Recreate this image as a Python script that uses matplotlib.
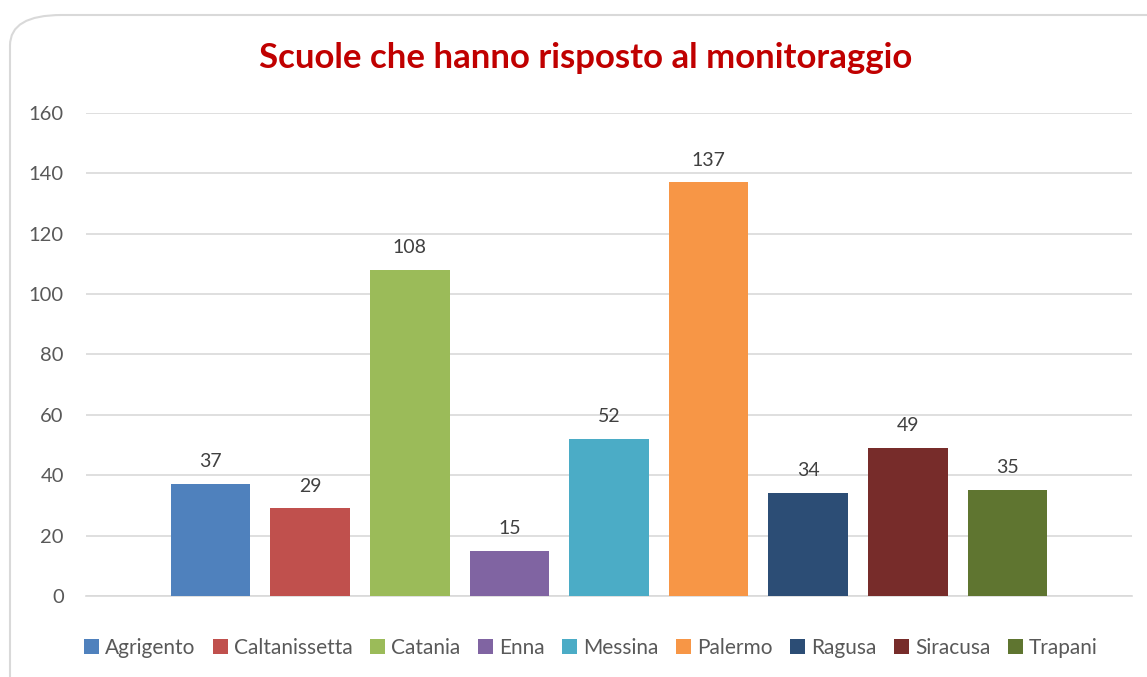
import matplotlib.pyplot as plt
from matplotlib.patches import FancyBboxPatch, Patch

provinces = ['Agrigento', 'Caltanissetta', 'Catania', 'Enna', 'Messina',
             'Palermo', 'Ragusa', 'Siracusa', 'Trapani']
schools = [37, 29, 108, 15, 52, 137, 34, 49, 35]
colors = ['#4F81BD', '#C0504D', '#9BBB59', '#8064A2', '#4BACC6',
          '#F79646', '#2C4D75', '#772C2A', '#5F7530']
yticks = [0, 20, 40, 60, 80, 100, 120, 140, 160]

plt.rcParams['font.family'] = ['Lato', 'DejaVu Sans']

fig = plt.figure(figsize=(11.47, 6.77), dpi=100)

# rounded chart border, like the Excel chart area
border = FancyBboxPatch((10 / 1147, -0.2), 1.2, 1.2 - 15 / 677,
                        boxstyle='round,pad=0,rounding_size=0.045',
                        transform=fig.transFigure, facecolor='none',
                        edgecolor='#D9D9D9', linewidth=1.5, zorder=-1)
fig.patches.append(border)

ax = fig.add_axes([86 / 1147, 1 - 596 / 677, (1132 - 86) / 1147, (596 - 113) / 677])
ax.set_facecolor('none')

x = list(range(len(provinces)))
ax.bar(x, schools, width=0.8, color=colors, zorder=3)

for xi, v in zip(x, schools):
    ax.annotate(str(v), (xi, v), xytext=(0, 10), textcoords='offset points',
                ha='center', va='bottom', fontsize=14, color='#404040')

ax.set_xlim(-1.25, 9.25)
ax.set_ylim(0, 160)
ax.set_yticks(yticks)
ax.set_xticks([])
ax.yaxis.grid(True, color='#D9D9D9', linewidth=1.2, zorder=0)
ax.tick_params(axis='y', length=0, pad=16, labelsize=14.5, labelcolor='#595959')
for s in ['top', 'right', 'left']:
    ax.spines[s].set_visible(False)
ax.spines['bottom'].set_color('#D9D9D9')
ax.spines['bottom'].set_linewidth(1.2)

fig.text(586 / 1147, 1 - 58 / 677, 'Scuole che hanno risposto al monitoraggio',
         ha='center', va='center', fontsize=25, fontweight='bold', color='#C00000')

handles = [Patch(facecolor=c) for c in colors]
fig.legend(handles, provinces, loc='center', bbox_to_anchor=(591 / 1147, 1 - 648 / 677),
           ncol=9, frameon=False, fontsize=15, labelcolor='#595959',
           handlelength=0.7, handleheight=0.7, handletextpad=0.3,
           columnspacing=0.85)

fig.savefig('out.png', dpi=100)
